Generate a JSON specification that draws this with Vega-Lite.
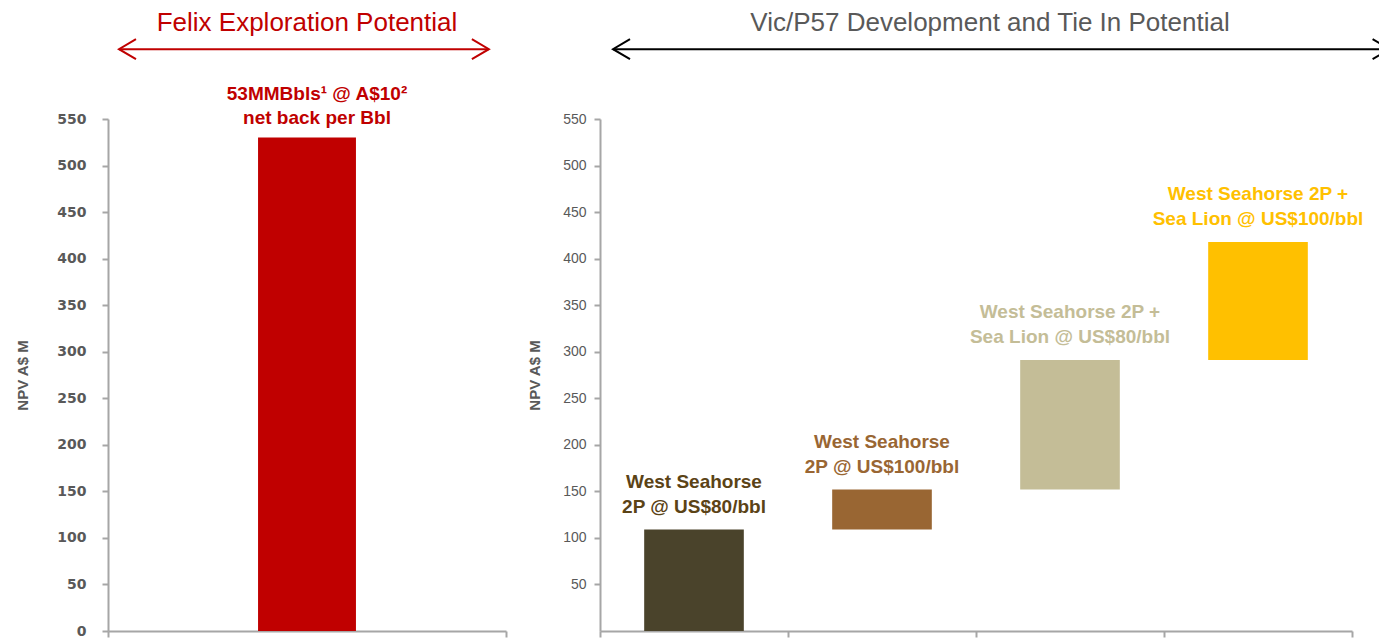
{
  "$schema": "https://vega.github.io/schema/vega-lite/v6.json",
  "padding": {"left": 15, "top": 10, "right": 0, "bottom": 0},
  "background": "white",
  "config": {"view": {"stroke": null}, "font": "Liberation Sans"},
  "spacing": 20,
  "hconcat": [
    {
      "width": 398,
      "height": 512,
      "title": {"text": "Felix Exploration Potential", "color": "#C00000", "fontSize": 26, "fontWeight": "normal", "font": "Liberation Sans", "anchor": "middle", "frame": "group", "baseline": "alphabetic", "offset": -22},
      "layer": [
        {
          "data": {"values": [{"case": "Felix", "lo": 0, "hi": 530, "label": "53MMBbls¹ @ A$10²\nnet back per Bbl"}]},
          "encoding": {
            "x": {"field": "case", "type": "nominal", "sort": null, "axis": null, "scale": {"paddingInner": 0.754, "paddingOuter": 0.377}}
          },
          "layer": [
            {
              "mark": {"type": "bar", "color": "#C00000"},
              "encoding": {
                "y": {"field": "lo", "type": "quantitative", "scale": {"domain": [0, 550], "nice": false},
                  "axis": {"values": [0, 50, 100, 150, 200, 250, 300, 350, 400, 450, 500, 550], "title": "NPV A$ M", "titleFont": "Liberation Sans", "titleFontSize": 15, "titleFontWeight": "bold", "titleColor": "#595959", "titlePadding": 26, "labelFont": "DejaVu Sans", "labelFontSize": 14, "labelFontWeight": "bold", "labelColor": "#595959", "labelPadding": 16, "tickSize": 6, "tickColor": "#A6A6A6", "tickWidth": 2, "domainColor": "#A6A6A6", "domainWidth": 2, "grid": false}},
                "y2": {"field": "hi"}
              }
            },
            {
              "mark": {"type": "text", "color": "#C00000", "font": "Liberation Sans", "fontSize": 19, "fontWeight": "bold", "lineBreak": "\n", "lineHeight": 24, "baseline": "alphabetic", "align": "center", "dy": -38, "dx": 10},
              "encoding": {
                "y": {"field": "hi", "type": "quantitative"},
                "text": {"field": "label", "type": "nominal"}
              }
            }
          ]
        },
        {
          "data": {"values": [{}]},
          "layer": [
            {
              "mark": {"type": "rule", "color": "#C00000", "strokeWidth": 2},
              "encoding": {
                "x": {"datum": 0.0276, "type": "quantitative", "scale": {"domain": [0, 1], "nice": false, "zero": false},
                  "axis": {"values": [0, 1], "labels": false, "title": null, "grid": false, "orient": "bottom", "tickSize": 6, "tickColor": "#A6A6A6", "tickWidth": 2, "domainColor": "#A6A6A6", "domainWidth": 2}},
                "x2": {"datum": 0.957},
                "y": {"datum": 625, "type": "quantitative", "scale": {"domain": [0, 550], "nice": false}, "axis": null}
              }
            },
            {
              "mark": {"type": "point", "shape": "M1.7,-1L0,0L1.7,1", "filled": false, "size": 400, "strokeWidth": 2, "color": "#C00000", "opacity": 1},
              "encoding": {
                "x": {"datum": 0.0276, "type": "quantitative"},
                "y": {"datum": 625, "type": "quantitative"}
              }
            },
            {
              "mark": {"type": "point", "shape": "M-1.7,-1L0,0L-1.7,1", "filled": false, "size": 400, "strokeWidth": 2, "color": "#C00000", "opacity": 1},
              "encoding": {
                "x": {"datum": 0.957, "type": "quantitative"},
                "y": {"datum": 625, "type": "quantitative"}
              }
            }
          ]
        }
      ],
      "resolve": {"scale": {"x": "independent", "y": "independent"}}
    },
    {
      "width": 752,
      "height": 512,
      "title": {"text": "Vic/P57 Development and Tie In Potential", "color": "#595959", "fontSize": 26, "fontWeight": "normal", "font": "Liberation Sans", "anchor": "middle", "frame": "group", "baseline": "alphabetic", "offset": -22, "dx": 14},
      "layer": [
        {
          "data": {"values": [
            {"case": "West Seahorse 2P @ US$80/bbl", "lo": 0, "hi": 109, "label": "West Seahorse\n2P @ US$80/bbl"},
            {"case": "West Seahorse 2P @ US$100/bbl", "lo": 109, "hi": 152, "label": "West Seahorse\n2P @ US$100/bbl"},
            {"case": "West Seahorse 2P + Sea Lion @ US$80/bbl", "lo": 152, "hi": 291, "label": "West Seahorse 2P +\nSea Lion @ US$80/bbl"},
            {"case": "West Seahorse 2P + Sea Lion @ US$100/bbl", "lo": 291, "hi": 418, "label": "West Seahorse 2P +\nSea Lion @ US$100/bbl"}
          ]},
          "encoding": {
            "x": {"field": "case", "type": "nominal", "sort": null, "axis": null, "scale": {"paddingInner": 0.47, "paddingOuter": 0.235}}
          },
          "layer": [
            {
              "mark": {"type": "bar"},
              "encoding": {
                "y": {"field": "lo", "type": "quantitative", "scale": {"domain": [0, 550], "nice": false},
                  "axis": {"values": [50, 100, 150, 200, 250, 300, 350, 400, 450, 500, 550], "title": "NPV A$ M", "titleFont": "Liberation Sans", "titleFontSize": 15, "titleFontWeight": "bold", "titleColor": "#595959", "titlePadding": 20, "labelFont": "Liberation Sans", "labelFontSize": 14, "labelColor": "#595959", "labelPadding": 8, "tickSize": 6, "tickColor": "#A6A6A6", "tickWidth": 2, "domainColor": "#A6A6A6", "domainWidth": 2, "grid": false}},
                "y2": {"field": "hi"},
                "color": {"field": "case", "type": "nominal", "legend": null, "scale": {"domain": ["West Seahorse 2P @ US$80/bbl", "West Seahorse 2P @ US$100/bbl", "West Seahorse 2P + Sea Lion @ US$80/bbl", "West Seahorse 2P + Sea Lion @ US$100/bbl"], "range": ["#4A432B", "#996633", "#C4BD97", "#FFC000"]}}
              }
            },
            {
              "mark": {"type": "text", "font": "Liberation Sans", "fontSize": 19, "fontWeight": "bold", "lineBreak": "\n", "lineHeight": 25, "baseline": "alphabetic", "align": "center", "dy": -42},
              "encoding": {
                "y": {"field": "hi", "type": "quantitative"},
                "text": {"field": "label", "type": "nominal"},
                "color": {"field": "label", "type": "nominal", "legend": null, "scale": {"domain": ["West Seahorse\n2P @ US$80/bbl", "West Seahorse\n2P @ US$100/bbl", "West Seahorse 2P +\nSea Lion @ US$80/bbl", "West Seahorse 2P +\nSea Lion @ US$100/bbl"], "range": ["#5B4316", "#996633", "#C4BD97", "#FFC000"]}}
              }
            }
          ],
          "resolve": {"scale": {"color": "independent"}}
        },
        {
          "data": {"values": [{}]},
          "layer": [
            {
              "mark": {"type": "rule", "color": "#000000", "strokeWidth": 2},
              "encoding": {
                "x": {"datum": 0.0173, "type": "quantitative", "scale": {"domain": [0, 1], "nice": false, "zero": false},
                  "axis": {"values": [0, 0.25, 0.5, 0.75, 1], "labels": false, "title": null, "grid": false, "orient": "bottom", "tickSize": 6, "tickColor": "#A6A6A6", "tickWidth": 2, "domainColor": "#A6A6A6", "domainWidth": 2}},
                "x2": {"datum": 1.05},
                "y": {"datum": 625, "type": "quantitative", "scale": {"domain": [0, 550], "nice": false}, "axis": null}
              }
            },
            {
              "mark": {"type": "point", "shape": "M1.7,-1L0,0L1.7,1", "filled": false, "size": 400, "strokeWidth": 2, "color": "#000000", "opacity": 1},
              "encoding": {
                "x": {"datum": 0.0173, "type": "quantitative"},
                "y": {"datum": 625, "type": "quantitative"}
              }
            },
            {
              "mark": {"type": "point", "shape": "M-1.7,-1L0,0L-1.7,1", "filled": false, "size": 400, "strokeWidth": 2, "color": "#000000", "opacity": 1},
              "encoding": {
                "x": {"datum": 1.05, "type": "quantitative"},
                "y": {"datum": 625, "type": "quantitative"}
              }
            }
          ]
        }
      ],
      "resolve": {"scale": {"x": "independent", "y": "independent"}}
    }
  ]
}
